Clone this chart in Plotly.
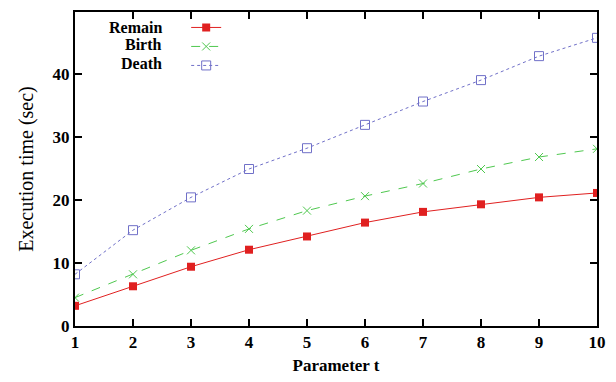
import plotly.graph_objects as go

t_values = [1, 2, 3, 4, 5, 6, 7, 8, 9, 10]
remain = [3.2, 6.3, 9.4, 12.1, 14.2, 16.4, 18.1, 19.3, 20.4, 21.1]
birth = [4.5, 8.2, 12.0, 15.4, 18.3, 20.6, 22.6, 24.9, 26.8, 28.1]
death = [8.2, 15.2, 20.4, 24.9, 28.2, 31.9, 35.6, 39.0, 42.8, 45.7]
series_names = ["Remain", "Birth", "Death"]
x_ticks = [1, 2, 3, 4, 5, 6, 7, 8, 9, 10]
y_ticks = [0, 10, 20, 30, 40]

FONT = "Liberation Serif"
TXT = dict(family=FONT, size=17, color="black", weight="bold")

fig = go.Figure()
fig.add_trace(go.Scatter(x=t_values, y=remain, name=" ", mode="lines+markers",
                         line=dict(color="#e02020", width=1),
                         marker=dict(symbol="square", size=8, color="#e02020")))
fig.add_trace(go.Scatter(x=t_values, y=birth, name=" ", mode="lines+markers",
                         line=dict(color="#4fc84f", width=1, dash="dash"),
                         marker=dict(symbol="x-thin-open", size=8, color="#4fc84f",
                                     line=dict(color="#4fc84f", width=1))))
fig.add_trace(go.Scatter(x=t_values, y=death, name=" ", mode="lines+markers",
                         line=dict(color="#7070c8", width=1, dash="dot"),
                         marker=dict(symbol="square-open", size=9, color="#7070c8",
                                     line=dict(width=1))))

axis_common = dict(showline=True, linecolor="black", linewidth=2, mirror="ticks",
                   ticks="inside", ticklen=7, tickwidth=1.5, tickcolor="black",
                   showgrid=False, zeroline=False, tickfont=TXT)

fig.update_xaxes(range=[1, 10], tickvals=x_ticks,
                 title=dict(text="Parameter t", font=TXT, standoff=8),
                 **axis_common)
fig.update_yaxes(range=[0, 49.8], tickvals=y_ticks,
                 title=dict(text="Execution time (sec)", font=dict(family=FONT, size=20, color="black"),
                            standoff=14),
                 **axis_common)

# legend labels placed to the left of the legend keys (gnuplot style)
label_y = [0.952, 0.896, 0.836]
for name, yy in zip(series_names, label_y):
    fig.add_annotation(text=name, xref="paper", yref="paper", x=0.17, y=yy,
                       xanchor="right", yanchor="middle", showarrow=False,
                       font=dict(family=FONT, size=16, color="black", weight="bold"))

fig.update_layout(
    width=616, height=382,
    margin=dict(l=75, r=10, t=10, b=55),
    plot_bgcolor="white", paper_bgcolor="white",
    font=dict(family=FONT, color="black"),
    legend=dict(x=0.213, y=0.997, xanchor="left", yanchor="top",
                bgcolor="rgba(0,0,0,0)", font=dict(family=FONT, size=10, color="black"),
                tracegroupgap=0, itemwidth=30),
)

fig.write_html("out.html")
